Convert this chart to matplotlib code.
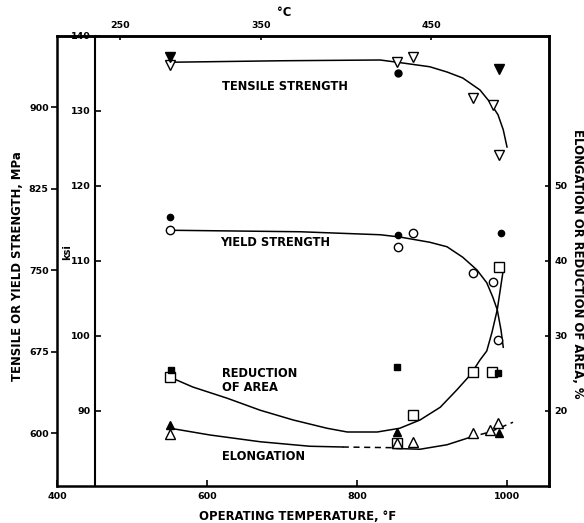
"""
Operating temperature vs. tensile/yield strength and ductility.

Left axes: strength in ksi (inner spine) and MPa (outer spine).
Right axis: elongation / reduction of area in percent.
Top axis: temperature in degrees C.
"""

import matplotlib
matplotlib.use('Agg')
from matplotlib import pyplot as plt

plt.rcParams['font.family'] = ['DejaVu Sans']
plt.rcParams['font.weight'] = 'bold'

# --- data: temperature in deg F, strength in ksi, ductility in % ---

# tensile strength
ts_open_f = [550, 853, 875, 955, 981, 989]
ts_open_ksi = [136.1, 136.5, 137.2, 131.7, 130.8, 124.1]
ts_filled_f = [550, 989]
ts_filled_ksi = [137.2, 135.6]
ts_circle_f = [855]
ts_circle_ksi = [135.1]
ts_curve_f = [550, 700, 831, 861, 897, 920, 941, 964, 977, 988, 995, 1000]
ts_curve_ksi = [136.5, 136.7, 136.8, 136.4, 135.9, 135.2, 134.4, 132.8,
                131.2, 129.5, 127.5, 125.2]

# yield strength
ys_open_f = [550, 855, 875, 955, 981, 988]
ys_open_ksi = [114.1, 111.9, 113.7, 108.4, 107.2, 99.5]
ys_filled_f = [550, 855, 992]
ys_filled_ksi = [115.9, 113.5, 113.7]
ys_curve_f = [550, 724, 831, 857, 897, 920, 941, 960, 973, 981, 987, 992, 995]
ys_curve_ksi = [114.1, 113.9, 113.5, 113.2, 112.5, 111.9, 110.5, 108.8,
                107.1, 105.2, 103.5, 100.8, 98.5]

# reduction of area
ra_open_f = [550, 853, 875, 955, 980, 989]
ra_open_pct = [24.5, 15.7, 19.5, 25.2, 25.2, 39.2]
ra_filled_f = [552, 853, 988]
ra_filled_pct = [25.4, 25.9, 25.1]
ra_curve_f = [551, 581, 627, 671, 715, 760, 787, 827, 857, 884, 911, 933,
              951, 964, 973, 980, 987, 995]
ra_curve_pct = [24.5, 23.2, 21.7, 20.1, 18.8, 17.7, 17.2, 17.2, 17.7, 18.8,
                20.5, 22.8, 24.8, 26.8, 28.0, 30.5, 33.5, 38.8]

# elongation
el_open_f = [550, 853, 874, 955, 977, 988]
el_open_pct = [16.9, 15.7, 15.9, 17.1, 17.5, 18.4]
el_filled_f = [550, 853, 989]
el_filled_pct = [18.1, 17.2, 17.1]
el_curve_f = [551, 604, 671, 737, 781]
el_curve_pct = [17.7, 16.8, 15.9, 15.3, 15.2]
el_gap_f = [781, 853]
el_gap_pct = [15.2, 15.1]
el_mid_f = [853, 884, 920, 951]
el_mid_pct = [15.0, 14.9, 15.5, 16.5]
el_tail_f = [951, 977, 1008]
el_tail_pct = [16.5, 17.2, 18.5]

# axis ticks
f_ticks = [400, 600, 800, 1000]
ksi_ticks = [90, 100, 110, 120, 130, 140]
mpa_ticks = [600, 675, 750, 825, 900]
pct_ticks = [20, 30, 40, 50]
c_labels = ['250', '350', '450']
c_ticks_f = [484, 672, 899]

KSI_TO_MPA = 6.895
PCT_OFFSET = 70.0   # 50 % sits on the 120 ksi line


def pct(values):
    """Percent values expressed on the ksi scale of the host axes."""
    return [v + PCT_OFFSET for v in values]


fig = plt.figure(figsize=(5.84, 5.23), dpi=100, facecolor='white')
ax = fig.add_axes([57 / 584, 37 / 523, 492 / 584, 450 / 523])
ax.set_xlim(400, 400 + 492 / 0.75)
ax.set_ylim(80, 140)

line_kw = dict(color='black', linewidth=1.1, zorder=2)
dash_kw = dict(color='black', linewidth=1.1, zorder=2, linestyle=(0, (4, 3)))
open_kw = dict(linestyle='none', mfc='white', mec='black', mew=1.0, zorder=3)
fill_kw = dict(linestyle='none', color='black', zorder=3)

# tensile strength
ax.plot(ts_curve_f, ts_curve_ksi, **line_kw)
ax.plot(ts_open_f, ts_open_ksi, marker='v', markersize=6.5, **open_kw)
ax.plot(ts_filled_f, ts_filled_ksi, marker='v', markersize=6.5, **fill_kw)
ax.plot(ts_circle_f, ts_circle_ksi, marker='o', markersize=5, **fill_kw)

# yield strength
ax.plot(ys_curve_f, ys_curve_ksi, **line_kw)
ax.plot(ys_open_f, ys_open_ksi, marker='o', markersize=6, **open_kw)
ax.plot(ys_filled_f, ys_filled_ksi, marker='o', markersize=4.5, **fill_kw)

# reduction of area
ax.plot(ra_curve_f, pct(ra_curve_pct), **line_kw)
ax.plot(ra_open_f, pct(ra_open_pct), marker='s', markersize=6.5, **open_kw)
ax.plot(ra_filled_f, pct(ra_filled_pct), marker='s', markersize=4.5, **fill_kw)

# elongation
ax.plot(el_curve_f, pct(el_curve_pct), **line_kw)
ax.plot(el_gap_f, pct(el_gap_pct), **dash_kw)
ax.plot(el_mid_f, pct(el_mid_pct), **line_kw)
ax.plot(el_tail_f, pct(el_tail_pct), **dash_kw)
ax.plot(el_open_f, pct(el_open_pct), marker='^', markersize=6.5, **open_kw)
ax.plot(el_filled_f, pct(el_filled_pct), marker='^', markersize=6, **fill_kw)

# curve labels
text_kw = dict(fontsize=8.3, fontweight='bold', color='black')
ax.text(704, 133.2, 'TENSILE STRENGTH', ha='center', va='center', **text_kw)
ax.text(617, 112.4, 'YIELD STRENGTH', ha='left', va='center', **text_kw)
ax.text(620, 94.0, 'REDUCTION\nOF AREA', ha='left', va='center',
        linespacing=1.1, **text_kw)
ax.text(620, 83.9, 'ELONGATION', ha='left', va='center', **text_kw)

# spines: ksi axis sits inside the frame at 450 F
for side in ['top', 'bottom', 'right']:
    ax.spines[side].set_linewidth(1.8)
ax.spines['left'].set_position(('data', 450))
ax.spines['left'].set_linewidth(1.5)

ax.set_xticks(f_ticks)
ax.set_yticks(ksi_ticks)
ax.tick_params(axis='x', direction='in', length=4, width=1.2, labelsize=6.8, pad=4)
ax.tick_params(axis='y', direction='in', length=4, width=1.2, labelsize=6.8, pad=3)

# MPa axis on the outer left edge
mpa = ax.secondary_yaxis('left', functions=(lambda k: k * KSI_TO_MPA,
                                             lambda m: m / KSI_TO_MPA))
mpa.set_yticks(mpa_ticks)
mpa.tick_params(direction='out', length=4, width=1.2, labelsize=6.8, pad=2)
mpa.spines['left'].set_linewidth(1.8)

# percent axis on the right
right = ax.secondary_yaxis('right', functions=(lambda k: k - PCT_OFFSET,
                                               lambda p: p + PCT_OFFSET))
right.set_yticks(pct_ticks)
right.tick_params(direction='in', length=3, width=1.2, labelsize=6.8, pad=4)
right.spines['right'].set_linewidth(1.8)

# degrees C along the top
top = ax.secondary_xaxis('top')
top.set_xticks(c_ticks_f, labels=c_labels)
top.tick_params(direction='in', length=3, width=1.2, labelsize=6.8, pad=4)
top.spines['top'].set_linewidth(1.8)

# axis titles
title_kw = dict(fontsize=8.4, fontweight='bold', va='center')
fig.text(298 / 584, 1 - 517 / 523, 'OPERATING TEMPERATURE, \u00b0F',
         ha='center', **title_kw)
fig.text(284 / 584, 1 - 13 / 523, '\u00b0C', ha='center', **title_kw)
fig.text(18 / 584, 1 - 266 / 523, 'TENSILE OR YIELD STRENGTH, MPa',
         rotation=90, ha='center', **title_kw)
fig.text(67 / 584, 1 - 252 / 523, 'ksi', rotation=90, ha='center',
         va='center', fontsize=7, fontweight='bold')
fig.text(577 / 584, 1 - 264 / 523, 'ELONGATION OR REDUCTION OF AREA, %',
         rotation=-90, ha='center', **title_kw)

fig.savefig('out.png', dpi=100, facecolor='white')
plt.close(fig)
